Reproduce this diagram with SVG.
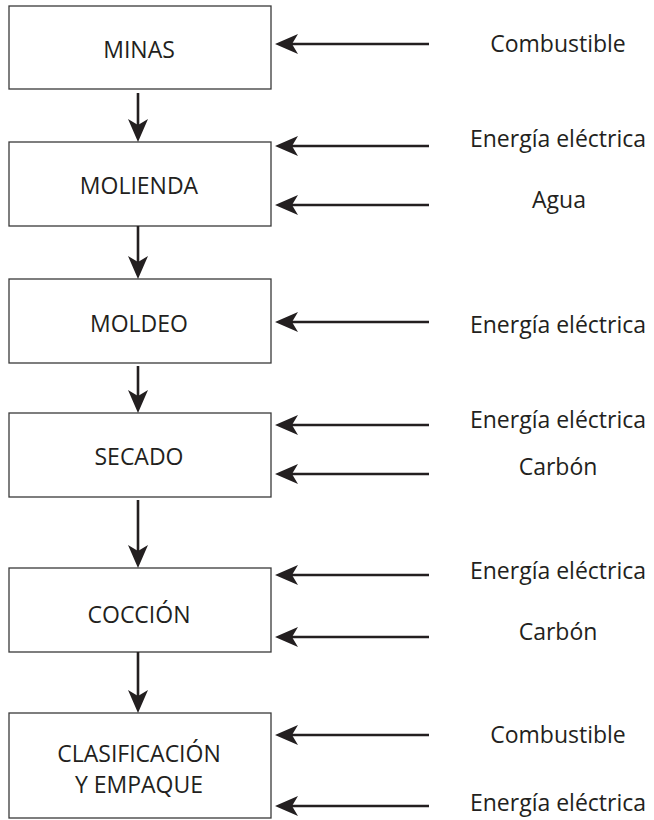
<svg xmlns="http://www.w3.org/2000/svg" width="654" height="820" viewBox="0 0 654 820">
<style>
.box{fill:#fff;stroke:#3a3a3a;stroke-width:1.3}
.lbl{font-family:"Open Sans","Liberation Sans",sans-serif;font-size:23px;fill:#231f20;text-anchor:middle}
.con{stroke:#231f20;stroke-width:2.6;fill:none;marker-end:url(#ah)}
</style>
<defs>
<marker id="ah" viewBox="-24 -11 25 22" markerWidth="25" markerHeight="22" refX="-6" refY="0" orient="auto" markerUnits="userSpaceOnUse">
<path d="M0,0 L-23,-10 L-17,0 L-23,10 Z" fill="#231f20"/>
</marker>
</defs>
<rect width="654" height="820" fill="#fff"/>
<g id="minas"><rect class="box" x="9" y="6" width="262" height="83"/><text class="lbl" x="139" y="58">MINAS</text></g>
<g id="molienda"><rect class="box" x="9" y="142" width="262" height="84"/><text class="lbl" x="139" y="194">MOLIENDA</text></g>
<g id="moldeo"><rect class="box" x="9" y="279" width="262" height="84"/><text class="lbl" x="139" y="332">MOLDEO</text></g>
<g id="secado"><rect class="box" x="9" y="413" width="262" height="84"/><text class="lbl" x="139" y="465">SECADO</text></g>
<g id="coccion"><rect class="box" x="9" y="568" width="262" height="84"/><text class="lbl" x="139" y="623">COCCIÓN</text></g>
<g id="clasificacion"><rect class="box" x="9" y="713" width="262" height="105"/><text class="lbl" x="139" y="762">CLASIFICACIÓN</text><text class="lbl" x="139" y="793">Y EMPAQUE</text></g>
<g id="inputs">
<text class="lbl" x="558" y="52">Combustible</text>
<text class="lbl" x="558" y="147">Energía eléctrica</text>
<text class="lbl" x="559" y="208">Agua</text>
<text class="lbl" x="558" y="333">Energía eléctrica</text>
<text class="lbl" x="558" y="428">Energía eléctrica</text>
<text class="lbl" x="558" y="475">Carbón</text>
<text class="lbl" x="558" y="579">Energía eléctrica</text>
<text class="lbl" x="558" y="640">Carbón</text>
<text class="lbl" x="558" y="743">Combustible</text>
<text class="lbl" x="558" y="811">Energía eléctrica</text>
</g>
<g id="connectors">
<line class="con" x1="138" y1="93" x2="138" y2="136"/>
<line class="con" x1="138" y1="226" x2="138" y2="273"/>
<line class="con" x1="138" y1="366" x2="138" y2="407"/>
<line class="con" x1="138" y1="500" x2="138" y2="562"/>
<line class="con" x1="138" y1="652" x2="138" y2="707"/>
<line class="con" x1="429" y1="44" x2="281" y2="44"/>
<line class="con" x1="429" y1="146" x2="281" y2="146"/>
<line class="con" x1="429" y1="205" x2="281" y2="205"/>
<line class="con" x1="429" y1="322" x2="281" y2="322"/>
<line class="con" x1="429" y1="425" x2="281" y2="425"/>
<line class="con" x1="429" y1="474" x2="281" y2="474"/>
<line class="con" x1="429" y1="575" x2="281" y2="575"/>
<line class="con" x1="429" y1="637" x2="281" y2="637"/>
<line class="con" x1="429" y1="735" x2="281" y2="735"/>
<line class="con" x1="429" y1="806" x2="281" y2="806"/>
</g>
</svg>
